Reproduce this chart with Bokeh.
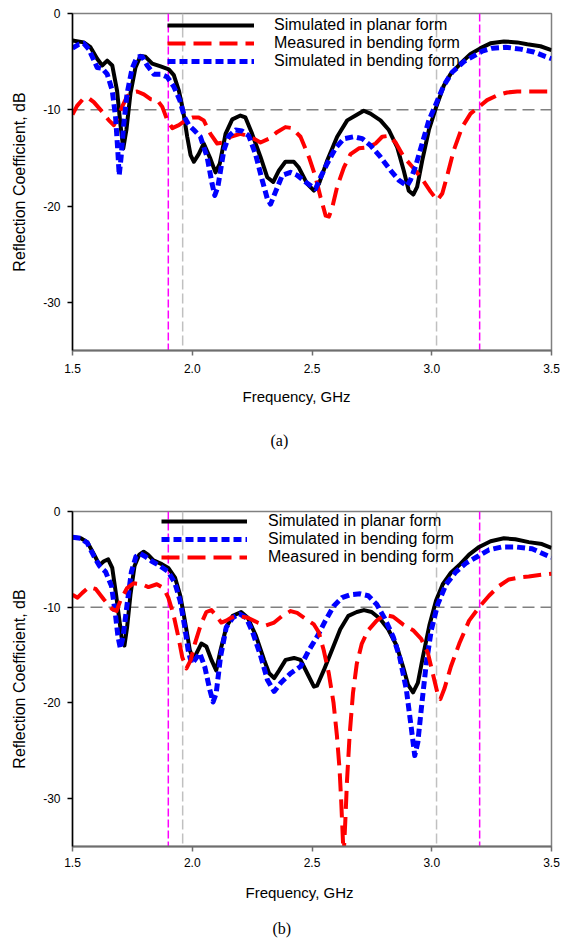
from bokeh.plotting import figure
from bokeh.models import (Range1d, Span, Legend, LegendItem, FixedTicker,
                          PrintfTickFormatter, Title)
from bokeh.layouts import column
from bokeh.embed import file_html
from bokeh.resources import INLINE

# ---------------- Panel (a) data ----------------
fa_planar = [1.5, 1.547, 1.575, 1.603, 1.624, 1.645, 1.666, 1.686, 1.700, 1.712, 1.725, 1.742, 1.763,
             1.784, 1.805, 1.833, 1.868, 1.902, 1.923, 1.944, 1.962, 1.979, 1.993, 2.007, 2.027, 2.048,
             2.076, 2.097, 2.115, 2.139, 2.167, 2.201, 2.222, 2.250, 2.285, 2.313, 2.338, 2.362, 2.389,
             2.424, 2.445, 2.480, 2.508, 2.529, 2.563, 2.605, 2.647, 2.682, 2.716, 2.744, 2.786, 2.821,
             2.856, 2.883, 2.904, 2.923, 2.939, 2.960, 2.988, 3.016, 3.050, 3.078, 3.120, 3.162, 3.204,
             3.245, 3.301, 3.357, 3.399, 3.454, 3.5]
sa_planar = [-2.8, -3.0, -3.5, -4.7, -5.4, -4.9, -5.4, -8.0, -11.5, -14.0, -12.1, -8.3, -5.6,
             -4.4, -4.5, -5.2, -5.5, -5.8, -6.4, -8.0, -10.1, -12.8, -14.7, -15.4, -14.6, -13.5,
             -15.1, -16.5, -15.6, -12.5, -11.0, -10.6, -10.8, -12.5, -14.9, -17.0, -17.5, -16.3, -15.4,
             -15.4, -16.0, -17.7, -18.4, -17.7, -15.3, -12.8, -11.1, -10.6, -10.1, -10.4, -11.1, -12.1,
             -13.9, -16.3, -18.4, -18.8, -18.0, -15.3, -12.1, -9.9, -7.5, -6.3, -5.2, -4.2, -3.6,
             -3.1, -2.9, -3.0, -3.2, -3.4, -3.8]

fa_meas = [1.5, 1.519, 1.547, 1.568, 1.589, 1.624, 1.652, 1.673, 1.689, 1.707, 1.728, 1.749, 1.770,
           1.798, 1.826, 1.854, 1.875, 1.896, 1.917, 1.944, 1.972, 2.000, 2.027, 2.048, 2.076, 2.104,
           2.132, 2.160, 2.201, 2.243, 2.285, 2.320, 2.355, 2.389, 2.417, 2.452, 2.487, 2.515, 2.536,
           2.557, 2.571, 2.585, 2.605, 2.633, 2.661, 2.696, 2.731, 2.766, 2.793, 2.821, 2.849, 2.883,
           2.925, 2.960, 2.995, 3.023, 3.044, 3.065, 3.092, 3.127, 3.162, 3.197, 3.231, 3.273, 3.315,
           3.357, 3.399, 3.454, 3.5]
sa_meas = [-10.5, -9.6, -8.8, -8.8, -9.2, -10.2, -11.1, -11.6, -10.8, -9.7, -8.6, -8.2, -8.1,
           -8.4, -8.9, -9.0, -9.7, -11.1, -11.9, -11.6, -11.1, -10.8, -10.8, -11.1, -12.5, -13.5,
           -13.4, -12.8, -12.5, -12.8, -13.4, -13.0, -12.3, -11.8, -11.9, -12.8, -14.9, -17.0, -19.1,
           -21.0, -21.1, -20.1, -18.0, -16.0, -14.6, -14.0, -13.9, -13.5, -12.8, -12.7, -13.4, -14.9,
           -16.1, -17.2, -18.5, -19.4, -18.7, -16.8, -14.2, -11.8, -10.4, -9.7, -9.0, -8.5, -8.2,
           -8.1, -8.1, -8.1, -8.1]

fa_bend = [1.5, 1.526, 1.547, 1.568, 1.603, 1.624, 1.645, 1.666, 1.680, 1.689, 1.695, 1.703, 1.714,
           1.728, 1.749, 1.770, 1.791, 1.812, 1.840, 1.868, 1.896, 1.923, 1.948, 1.968, 1.986, 2.007,
           2.034, 2.062, 2.083, 2.094, 2.107, 2.132, 2.153, 2.181, 2.208, 2.236, 2.264, 2.292, 2.313,
           2.327, 2.348, 2.376, 2.410, 2.438, 2.473, 2.501, 2.515, 2.536, 2.563, 2.598, 2.633, 2.675,
           2.710, 2.744, 2.786, 2.828, 2.862, 2.897, 2.911, 2.932, 2.960, 2.988, 3.016, 3.050, 3.085,
           3.134, 3.176, 3.211, 3.253, 3.308, 3.371, 3.426, 3.5]
sa_bend = [-3.6, -3.2, -3.1, -3.7, -5.6, -5.7, -6.3, -8.0, -10.8, -14.2, -16.8, -14.9, -11.5,
           -8.3, -5.7, -4.5, -4.5, -5.4, -6.3, -6.3, -6.6, -7.6, -9.0, -10.8, -11.6, -12.1,
           -12.8, -14.9, -17.7, -18.9, -18.0, -14.2, -12.7, -12.1, -12.2, -12.7, -14.6, -17.3, -19.2,
           -19.8, -18.5, -16.8, -16.5, -16.8, -17.5, -18.0, -18.2, -17.0, -15.6, -14.0, -13.0, -12.8,
           -13.0, -13.7, -14.9, -16.3, -17.3, -17.9, -17.3, -15.9, -13.5, -11.1, -9.5, -7.5, -6.1,
           -5.0, -4.4, -3.9, -3.6, -3.5, -3.7, -4.0, -4.7]

# ---------------- Panel (b) data ----------------
fb_planar = [1.5, 1.535, 1.562, 1.590, 1.613, 1.631, 1.649, 1.666, 1.682, 1.696, 1.707, 1.717, 1.728,
             1.742, 1.759, 1.779, 1.797, 1.815, 1.838, 1.873, 1.900, 1.928, 1.949, 1.962, 1.976, 1.990,
             2.004, 2.018, 2.038, 2.059, 2.080, 2.100, 2.118, 2.142, 2.169, 2.204, 2.232, 2.266, 2.300,
             2.321, 2.342, 2.363, 2.390, 2.425, 2.452, 2.480, 2.508, 2.521, 2.549, 2.583, 2.618, 2.652,
             2.687, 2.717, 2.749, 2.784, 2.818, 2.853, 2.880, 2.901, 2.922, 2.942, 2.963, 2.991, 3.018,
             3.046, 3.080, 3.115, 3.156, 3.198, 3.246, 3.301, 3.349, 3.405, 3.460, 3.5]
sb_planar = [-2.7, -2.8, -3.2, -4.5, -5.6, -5.2, -5.0, -5.9, -8.7, -11.4, -13.5, -14.0, -12.1,
             -8.7, -5.7, -4.5, -4.2, -4.5, -5.1, -5.5, -5.9, -6.9, -8.7, -10.4, -12.4, -14.5,
             -15.4, -14.8, -13.8, -14.1, -15.5, -16.6, -14.5, -12.1, -10.9, -10.5, -11.1, -13.0, -15.5,
             -16.9, -17.4, -16.6, -15.5, -15.3, -15.5, -16.9, -18.3, -18.2, -16.6, -14.5, -12.3, -10.9,
             -10.5, -10.3, -10.5, -11.2, -12.3, -14.0, -16.2, -18.1, -18.9, -17.9, -15.2, -11.8, -9.3,
             -7.6, -6.4, -5.6, -4.5, -3.7, -3.1, -2.8, -2.9, -3.2, -3.4, -3.8]

fb_bend = [1.5, 1.535, 1.562, 1.590, 1.613, 1.638, 1.663, 1.679, 1.690, 1.700, 1.711, 1.728, 1.746,
           1.765, 1.783, 1.804, 1.831, 1.866, 1.900, 1.928, 1.949, 1.967, 1.983, 1.997, 2.011, 2.031,
           2.052, 2.073, 2.087, 2.100, 2.118, 2.142, 2.169, 2.197, 2.225, 2.252, 2.287, 2.314, 2.342,
           2.370, 2.411, 2.452, 2.487, 2.521, 2.556, 2.590, 2.625, 2.659, 2.701, 2.735, 2.770, 2.804,
           2.839, 2.866, 2.894, 2.915, 2.929, 2.942, 2.956, 2.977, 2.998, 3.025, 3.060, 3.101, 3.143,
           3.191, 3.239, 3.294, 3.349, 3.419, 3.5]
sb_bend = [-2.7, -2.8, -3.3, -4.7, -5.7, -6.3, -7.8, -10.7, -13.1, -14.3, -13.1, -9.7, -6.3,
           -4.7, -4.4, -4.7, -5.2, -5.7, -6.3, -7.5, -9.3, -11.8, -14.5, -15.9, -15.5, -14.8,
           -16.2, -18.6, -19.9, -19.0, -15.2, -12.1, -11.1, -10.7, -11.1, -12.6, -15.2, -17.6, -18.8,
           -17.9, -16.9, -16.2, -14.5, -13.1, -11.4, -9.9, -9.0, -8.7, -8.6, -8.8, -9.7, -11.2,
           -13.1, -15.2, -18.6, -22.7, -25.5, -24.1, -20.7, -15.9, -12.4, -9.7, -7.6, -6.3, -5.4,
           -4.7, -4.0, -3.7, -3.7, -3.9, -4.8]

fb_meas = [1.5, 1.521, 1.541, 1.569, 1.597, 1.631, 1.666, 1.684, 1.700, 1.728, 1.755, 1.790, 1.817,
           1.852, 1.880, 1.900, 1.921, 1.942, 1.958, 1.976, 1.994, 2.011, 2.036, 2.059, 2.080, 2.100,
           2.121, 2.142, 2.162, 2.190, 2.232, 2.273, 2.307, 2.342, 2.376, 2.411, 2.438, 2.473, 2.508,
           2.528, 2.549, 2.570, 2.590, 2.604, 2.615, 2.622, 2.628, 2.632, 2.639, 2.646, 2.657, 2.671,
           2.687, 2.708, 2.735, 2.770, 2.804, 2.839, 2.880, 2.922, 2.956, 2.984, 3.004, 3.025, 3.036,
           3.053, 3.080, 3.115, 3.156, 3.201, 3.239, 3.280, 3.322, 3.363, 3.405, 3.460, 3.5]
sb_meas = [-8.7, -9.0, -8.5, -7.9, -8.1, -9.2, -10.2, -10.4, -9.3, -8.0, -7.5, -7.6, -7.9,
           -7.6, -8.0, -9.0, -10.7, -13.1, -15.2, -16.4, -15.5, -13.8, -11.8, -10.5, -10.3, -10.9,
           -11.6, -11.4, -11.1, -10.9, -11.1, -11.6, -11.9, -11.6, -10.9, -10.4, -10.6, -11.2, -11.8,
           -12.6, -14.5, -16.9, -20.0, -23.4, -26.9, -30.3, -33.7, -36.0, -32.4, -28.2, -23.4, -19.0,
           -15.9, -13.8, -12.4, -11.4, -10.8, -11.0, -11.8, -12.4, -13.3, -14.8, -16.9, -19.1, -19.6,
           -18.5, -16.2, -13.8, -11.4, -9.9, -8.8, -7.8, -7.1, -6.9, -6.8, -6.6, -6.5]

x_ticks = [1.5, 2.0, 2.5, 3.0, 3.5]
y_ticks = [0, -10, -20, -30]
band_lines = [1.9, 3.2]
ref_lines = [1.96, 3.02]
threshold = -10

label_planar = "Simulated in planar form"
label_meas = "Measured in bending form"
label_bend = "Simulated in bending form"

FONT = "Liberation Sans"


def make_panel(border_left, border_right, border_top, border_bottom, caption,
               series, legend_loc, glyph_w, label_standoff, tick_std, xl_std, xl_off, cap_std, cap_off):
    p = figure(width=561, height=470, x_range=Range1d(1.5, 3.5), y_range=Range1d(-35, 0),
               output_backend="svg", toolbar_location=None,
               min_border_left=border_left, min_border_right=border_right,
               min_border_top=border_top, min_border_bottom=border_bottom)
    p.grid.visible = False
    p.outline_line_color = "#808080"
    p.outline_line_width = 1.5
    p.background_fill_color = "white"
    p.border_fill_color = "white"

    xa = p.xaxis[0]
    xa.ticker = FixedTicker(ticks=x_ticks)
    xa.formatter = PrintfTickFormatter(format="%.1f")
    xa.axis_line_color = "#6e6e6e"
    xa.axis_line_width = 2
    xa.major_tick_line_color = "#6e6e6e"
    xa.major_tick_line_width = 1.5
    xa.major_tick_out = 5
    xa.major_tick_in = 0
    xa.minor_tick_line_color = None
    xa.major_label_standoff = tick_std
    xa.major_label_text_font = FONT
    xa.major_label_text_font_size = "12px"
    xa.major_label_text_color = "black"

    ya = p.yaxis[0]
    ya.ticker = FixedTicker(ticks=y_ticks)
    ya.formatter = PrintfTickFormatter(format="%d")
    ya.axis_line_color = "black"
    ya.axis_line_width = 1.5
    ya.major_tick_line_color = "black"
    ya.major_tick_line_width = 1.5
    ya.major_tick_out = 5
    ya.major_tick_in = 0
    ya.minor_tick_line_color = None
    ya.major_label_standoff = 7
    ya.major_label_text_font = FONT
    ya.major_label_text_font_size = "12px"
    ya.major_label_text_color = "black"
    ya.axis_label = "Reflection Coefficient, dB"
    ya.axis_label_text_font = FONT
    ya.axis_label_text_font_size = "16px"
    ya.axis_label_text_font_style = "normal"
    ya.axis_label_text_color = "black"
    ya.axis_label_standoff = 12

    # reference lines
    p.add_layout(Span(location=threshold, dimension="width", line_color="#808080",
                      line_width=1.5, line_dash="12 6", level="underlay"))
    for xv in ref_lines:
        p.add_layout(Span(location=xv, dimension="height", line_color="#c0c0c0",
                          line_width=1.5, line_dash="10 4", level="underlay"))
    for xv in band_lines:
        p.add_layout(Span(location=xv, dimension="height", line_color="#ff00ff",
                          line_width=1.5, line_dash="8 3", level="underlay"))

    items = []
    for (xs, ys, lab, col, dash, lw) in series:
        r = p.line(xs, ys, line_color=col, line_width=lw, line_dash=dash, line_join="round")
        items.append(LegendItem(label=lab, renderers=[r]))

    leg = Legend(items=items, location=legend_loc, padding=0, margin=0, spacing=0,
                 glyph_width=glyph_w, glyph_height=18, label_height=18,
                 label_standoff=label_standoff, label_text_font=FONT,
                 label_text_font_size="16px", label_text_color="black",
                 border_line_color=None, background_fill_alpha=0)
    p.add_layout(leg, "center")

    p.add_layout(Title(text="Frequency, GHz", align="left", offset=xl_off, standoff=xl_std,
                       text_font=FONT, text_font_size="15px", text_font_style="normal",
                       text_color="black"), "below")
    p.add_layout(Title(text=caption, align="left", offset=cap_off, standoff=cap_std,
                       text_font="Liberation Serif", text_font_size="16px",
                       text_font_style="normal", text_color="black"), "below")
    return p


series_a = [
    (fa_planar, sa_planar, label_planar, "black", "solid", 4),
    (fa_meas, sa_meas, label_meas, "#ff0000", "18 8", 4),
    (fa_bend, sa_bend, label_bend, "#0000ff", "8 4", 5),
]
series_b = [
    (fb_planar, sb_planar, label_planar, "black", "solid", 4),
    (fb_bend, sb_bend, label_bend, "#0000ff", "8 4", 5),
    (fb_meas, sb_meas, label_meas, "#ff0000", "18 8", 4),
]

p1 = make_panel(72, 10, 13, 120, "(a)", series_a, (95, 280), 87, 20, 8, 21, 170, 29, 198)
p2 = make_panel(70, 8, 41, 89, "(b)", series_b, (89, 280), 86, 21, 6, 25, 173, 8, 200)

layout = column(p1, p2, spacing=0)
open("out.html", "w").write(file_html(layout, INLINE))
